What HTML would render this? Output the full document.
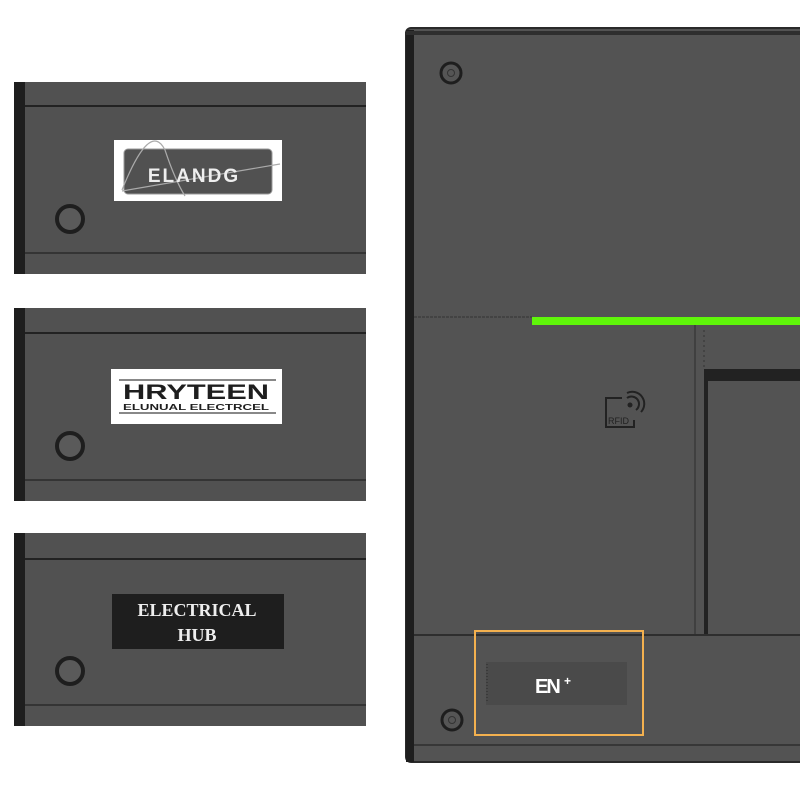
<!DOCTYPE html>
<html><head><meta charset="utf-8"><style>
html,body{margin:0;padding:0;background:#fff;width:800px;height:800px;overflow:hidden}
</style></head><body>
<svg width="800" height="800" viewBox="0 0 800 800" xmlns="http://www.w3.org/2000/svg" style="display:block">
<g>
  <rect x="14" y="82" width="352" height="192" fill="#515151"/>
  <rect x="14" y="82" width="11" height="192" fill="#1e1e1e"/>
  <line x1="25" y1="106" x2="366" y2="106" stroke="#222" stroke-width="2"/>
  <line x1="25" y1="253" x2="366" y2="253" stroke="#2a2a2a" stroke-width="1.5"/>
  <circle cx="70" cy="219" r="13" fill="#5a5a5a" stroke="#1e1e1e" stroke-width="4"/>
  <rect x="114" y="140" width="168" height="61" fill="#fff"/>
  <rect x="124" y="149" width="148" height="45" rx="4" fill="#515151" stroke="#999" stroke-width="1"/>
  <path d="M122 190 Q150 120 165 150 Q175 180 185 196" fill="none" stroke="#aaa" stroke-width="1.2"/>
  <line x1="122" y1="191" x2="280" y2="164" stroke="#aaa" stroke-width="1.2"/>
  <text x="194" y="182" text-anchor="middle" font-family="Liberation Sans, sans-serif" font-weight="bold" font-size="19" fill="#eee" letter-spacing="2">ELANDG</text>
  <rect x="14" y="308" width="352" height="193" fill="#515151"/>
  <rect x="14" y="308" width="11" height="193" fill="#1e1e1e"/>
  <line x1="25" y1="333" x2="366" y2="333" stroke="#222" stroke-width="2"/>
  <line x1="25" y1="480" x2="366" y2="480" stroke="#2a2a2a" stroke-width="1.5"/>
  <circle cx="70" cy="446" r="13" fill="#5a5a5a" stroke="#1e1e1e" stroke-width="4"/>
  <rect x="111" y="369" width="171" height="55" fill="#fff"/>
  <line x1="119" y1="380" x2="276" y2="380" stroke="#888" stroke-width="2"/>
  <line x1="119" y1="413" x2="276" y2="413" stroke="#888" stroke-width="2"/>
  <text x="196" y="399" text-anchor="middle" font-family="Liberation Sans, sans-serif" font-weight="bold" font-size="21" fill="#1e1e1e" textLength="146" lengthAdjust="spacingAndGlyphs">HRYTEEN</text>
  <text x="196" y="410" text-anchor="middle" font-family="Liberation Sans, sans-serif" font-weight="bold" font-size="8" fill="#1e1e1e" textLength="146" lengthAdjust="spacingAndGlyphs">ELUNUAL ELECTRCEL</text>
  <rect x="14" y="533" width="352" height="193" fill="#515151"/>
  <rect x="14" y="533" width="11" height="193" fill="#1e1e1e"/>
  <line x1="25" y1="559" x2="366" y2="559" stroke="#222" stroke-width="2"/>
  <line x1="25" y1="705" x2="366" y2="705" stroke="#2a2a2a" stroke-width="1.5"/>
  <circle cx="70" cy="671" r="13" fill="#5a5a5a" stroke="#1e1e1e" stroke-width="4"/>
  <rect x="112" y="594" width="172" height="55" fill="#1e1e1e"/>
  <text x="197" y="616" text-anchor="middle" font-family="Liberation Serif, serif" font-weight="bold" font-size="18" fill="#eee">ELECTRICAL</text>
  <text x="197" y="641" text-anchor="middle" font-family="Liberation Serif, serif" font-weight="bold" font-size="18" fill="#eee">HUB</text>
  <rect x="406" y="28" width="400" height="734" rx="5" fill="#535353"/>
  <rect x="406" y="28" width="400" height="734" rx="5" fill="none" stroke="#2a2a2a" stroke-width="2"/>
  <rect x="406" y="30" width="8" height="732" fill="#1e1e1e"/>
  <line x1="406" y1="33" x2="800" y2="33" stroke="#2e2e2e" stroke-width="4"/>
  <circle cx="451" cy="73" r="10" fill="#555" stroke="#1e1e1e" stroke-width="3"/>
  <circle cx="451" cy="73" r="3.5" fill="none" stroke="#333" stroke-width="1"/>
  <line x1="414" y1="317" x2="532" y2="317" stroke="#333" stroke-width="1" stroke-dasharray="3 1"/>
  <rect x="532" y="317" width="268" height="8" fill="#5ff50a"/>
  <line x1="695" y1="325" x2="695" y2="635" stroke="#2e2e2e" stroke-width="1"/>
  <line x1="704" y1="330" x2="704" y2="370" stroke="#333" stroke-width="1" stroke-dasharray="2 3"/>
  <rect x="704" y="369" width="96" height="12" fill="#222"/>
  <rect x="704" y="369" width="4" height="266" fill="#222"/>
  <line x1="414" y1="635" x2="800" y2="635" stroke="#2e2e2e" stroke-width="2"/>
  <line x1="414" y1="745" x2="800" y2="745" stroke="#2e2e2e" stroke-width="1.5"/>
  <circle cx="452" cy="720" r="10" fill="#555" stroke="#1e1e1e" stroke-width="3"/>
  <circle cx="452" cy="720" r="3.5" fill="none" stroke="#333" stroke-width="1"/>
  <path d="M622 398 L606 398 L606 427 L634 427 L634 420" fill="none" stroke="#222" stroke-width="2"/>
  <circle cx="630" cy="405" r="2.5" fill="#222"/>
  <path d="M627 398 A7 7 0 0 1 636 410" fill="none" stroke="#222" stroke-width="2"/>
  <path d="M627 393 A12 12 0 0 1 641 412" fill="none" stroke="#222" stroke-width="2"/>
  <text x="608" y="424" font-family="Liberation Sans, sans-serif" font-size="9" fill="#222">RFID</text>
  <rect x="486" y="662" width="141" height="43" fill="#4a4a4a"/>
  <line x1="487" y1="664" x2="487" y2="702" stroke="#2a2a2a" stroke-width="1" stroke-dasharray="1 2"/>
  <text x="535" y="693" font-family="Liberation Sans, sans-serif" font-weight="bold" font-size="20" fill="#fff" letter-spacing="-2">EN</text>
  <text x="564" y="685" font-family="Liberation Sans, sans-serif" font-weight="bold" font-size="12" fill="#fff">+</text>
  <rect x="475" y="631" width="168" height="104" fill="none" stroke="#f4b14f" stroke-width="2"/>
</g>
</svg>
</body></html>
